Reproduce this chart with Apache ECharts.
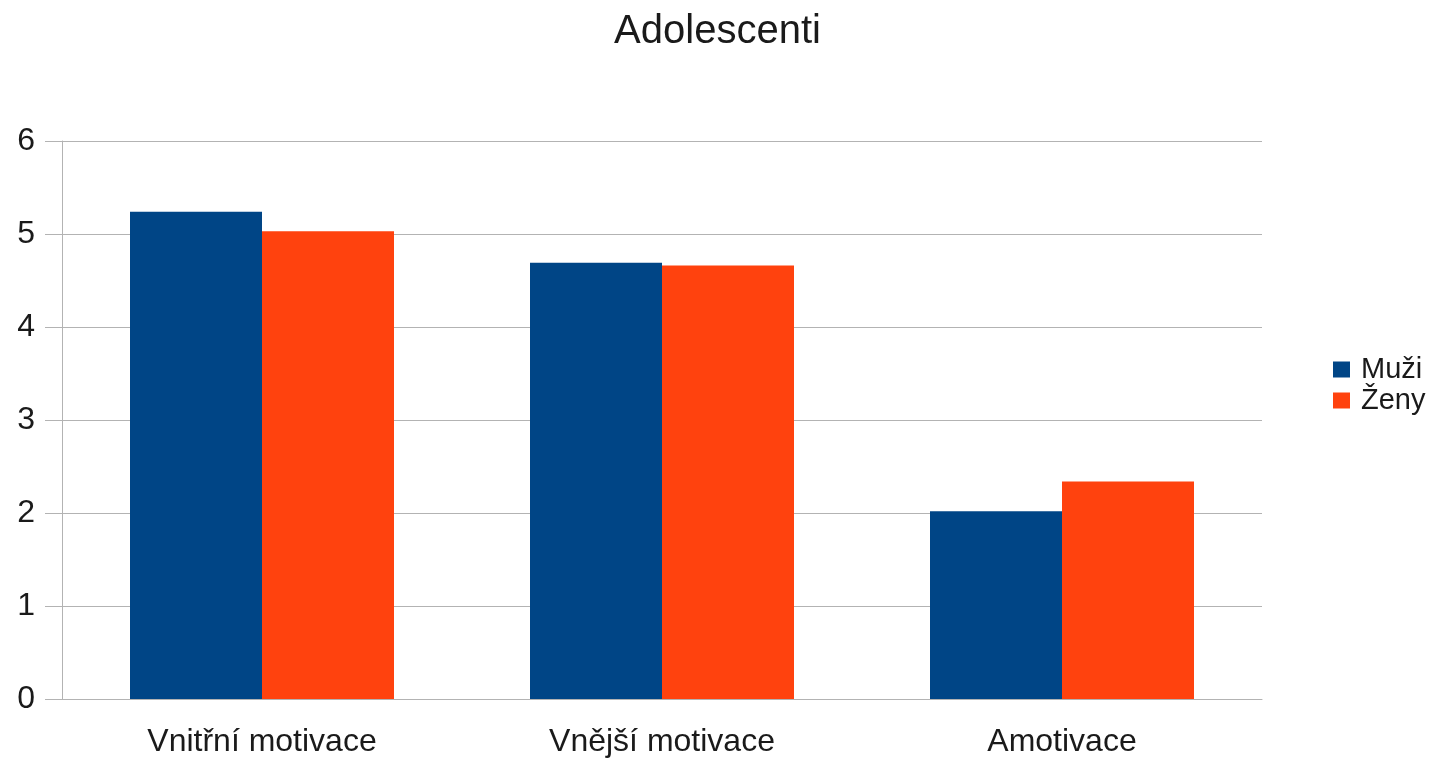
<!DOCTYPE html>
<html>
<head>
<meta charset="utf-8">
<script src="https://cdn.jsdelivr.net/npm/echarts@6/dist/echarts.min.js"></script>
<style>
  html, body { margin: 0; padding: 0; background: #fff; }
  #chart { width: 1435px; height: 760px; }
</style>
</head>
<body>
<div id="chart"></div>
<script>
// Motivation scores of adolescents by gender
const categories = ['Vnitřní motivace', 'Vnější motivace', 'Amotivace'];
const muzi = [5.24, 4.69, 2.02];
const zeny = [5.03, 4.66, 2.34];
const seriesNames = ['Muži', 'Ženy'];

const FONT = '"Liberation Sans", Arial, sans-serif';
const chart = echarts.init(document.getElementById('chart'));

chart.setOption({
  backgroundColor: '#ffffff',
  animation: false,
  title: {
    text: 'Adolescenti',
    left: 'center',
    top: 7,
    textStyle: { fontFamily: FONT, fontSize: 40, fontWeight: 'normal', color: '#1a1a1a' }
  },
  legend: {
    data: seriesNames,
    orient: 'vertical',
    left: 1328,
    top: 350,
    itemWidth: 17,
    itemHeight: 16,
    itemGap: 2,
    icon: 'rect',
    textStyle: { fontFamily: FONT, fontSize: 29, color: '#1a1a1a', padding: [0, 0, 0, 6] }
  },
  grid: { left: 62, right: 173, top: 141, bottom: 61 },
  xAxis: {
    type: 'category',
    data: categories,
    axisLine: { lineStyle: { color: '#b3b3b3', width: 1 } },
    axisTick: { length: 13, lineStyle: { color: '#b3b3b3' } },
    axisLabel: { fontFamily: FONT, fontSize: 32, color: '#1a1a1a', margin: 27 }
  },
  yAxis: {
    type: 'value',
    min: 0,
    max: 6,
    interval: 1,
    axisLine: { show: true, lineStyle: { color: '#b3b3b3', width: 1 } },
    axisTick: { show: true, length: 17, lineStyle: { color: '#b3b3b3' } },
    splitLine: { lineStyle: { color: '#b3b3b3', width: 1 } },
    axisLabel: { fontFamily: FONT, fontSize: 32, color: '#1a1a1a', margin: 27 }
  },
  series: [
    {
      name: seriesNames[0],
      type: 'bar',
      data: muzi,
      barWidth: 132,
      barGap: '0%',
      itemStyle: { color: '#004586' }
    },
    {
      name: seriesNames[1],
      type: 'bar',
      data: zeny,
      barWidth: 132,
      barGap: '0%',
      itemStyle: { color: '#ff420e' }
    }
  ]
});
</script>
</body>
</html>
